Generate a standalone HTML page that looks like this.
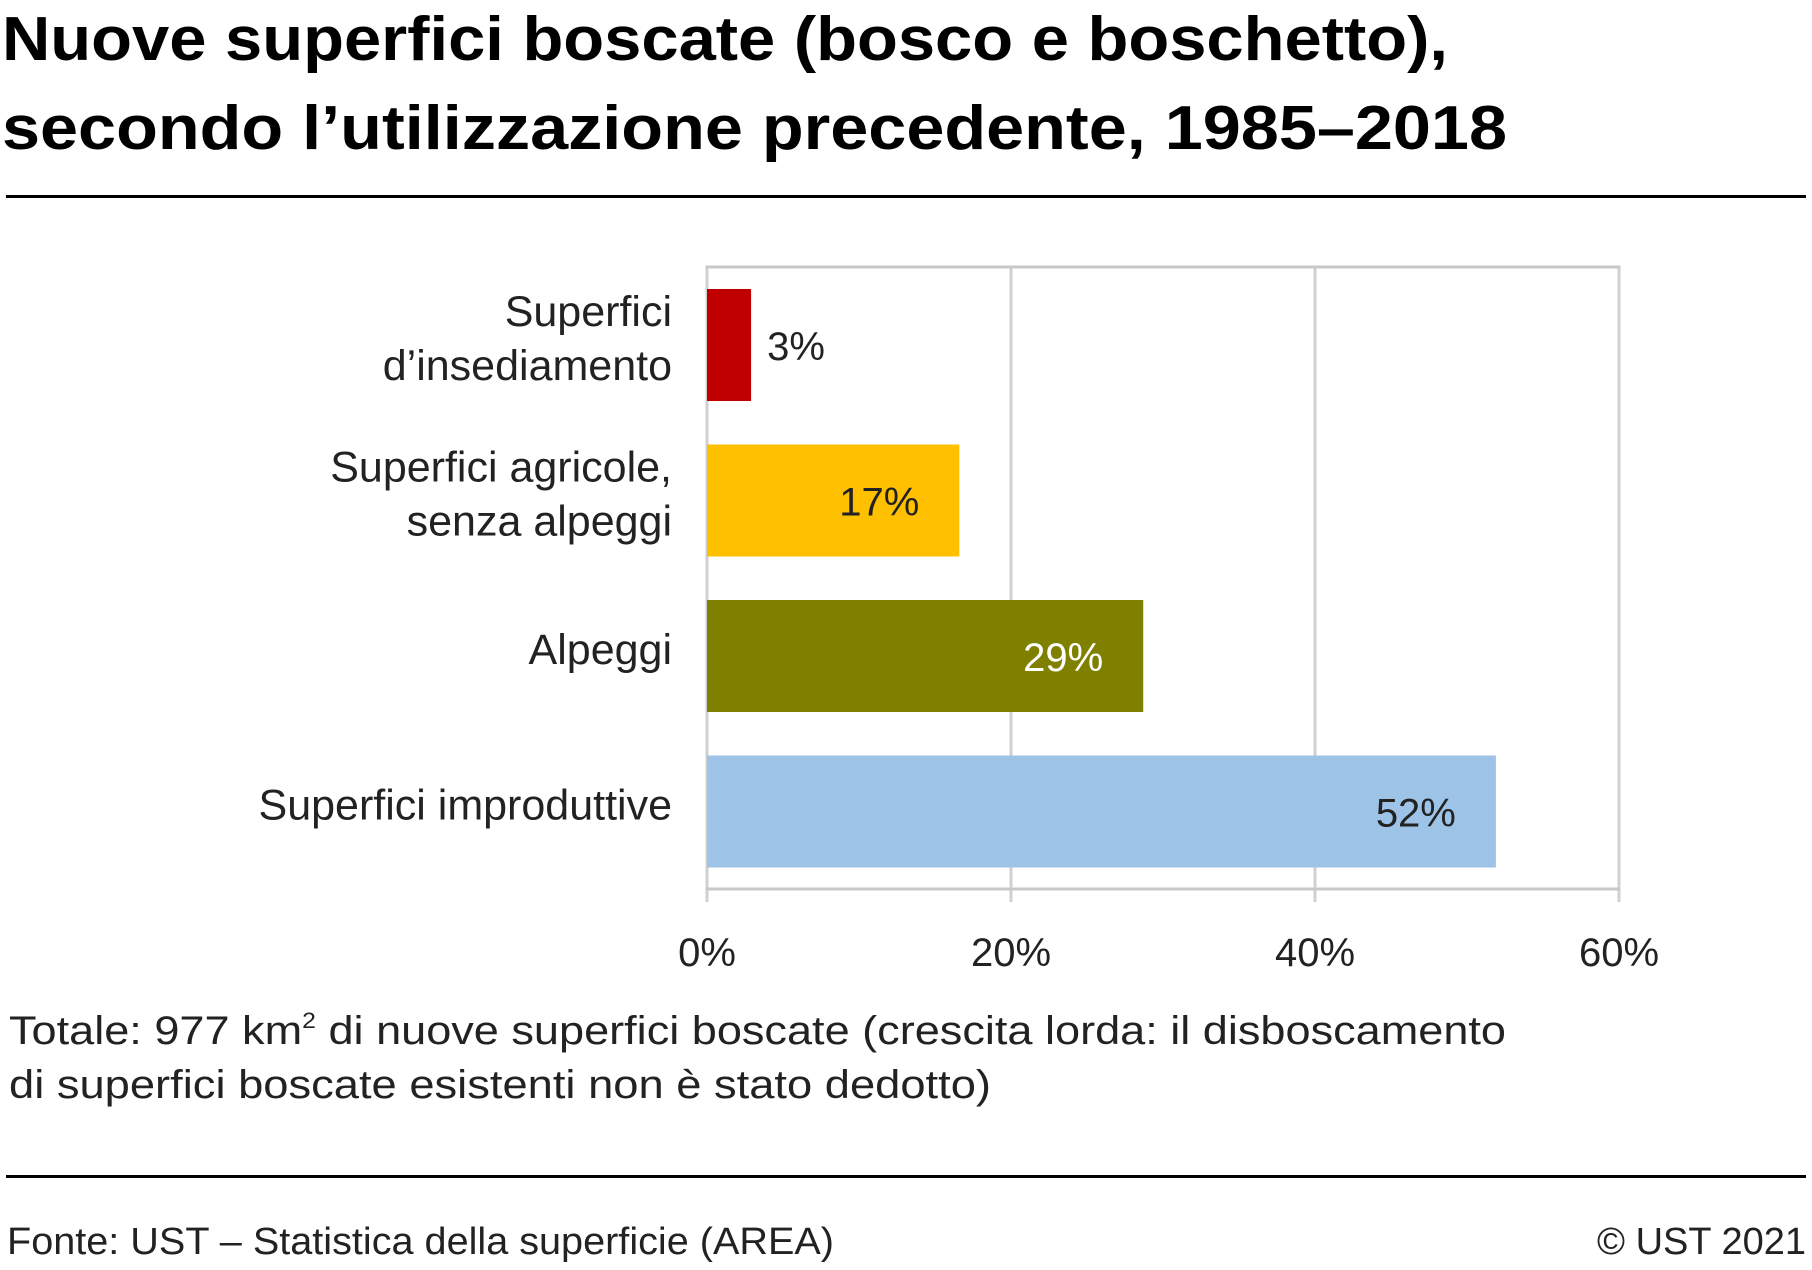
<!DOCTYPE html>
<html><head><meta charset="utf-8"><style>
html,body{margin:0;padding:0;background:#fff;}
svg{display:block;font-family:"Liberation Sans",sans-serif;}
</style></head><body>
<svg id="chart" width="1812" height="1270" viewBox="0 0 1812 1270">
<g font-weight="bold" font-size="62" fill="#000">
<text x="2" y="60" textLength="1446" lengthAdjust="spacingAndGlyphs">Nuove superfici boscate (bosco e boschetto),</text>
<text x="2" y="149" textLength="1505" lengthAdjust="spacingAndGlyphs">secondo l’utilizzazione precedente, 1985–2018</text>
</g>
<rect x="6" y="195" width="1800" height="3" fill="#000"/>
<g id="plot"></g>
<g font-size="40" fill="#222">
<text x="9" y="1044" textLength="1497" lengthAdjust="spacingAndGlyphs">Totale: 977 km<tspan font-size="22" dy="-16">2</tspan><tspan dy="16"> di nuove superfici boscate (crescita lorda: il disboscamento</tspan></text>
<text x="9" y="1098" textLength="982" lengthAdjust="spacingAndGlyphs">di superfici boscate esistenti non è stato dedotto)</text>
</g>
<rect x="6" y="1175" width="1800" height="3" fill="#000"/>
<text x="7" y="1254" font-size="38" fill="#222" textLength="827" lengthAdjust="spacingAndGlyphs">Fonte: UST – Statistica della superficie (AREA)</text>
<text x="1806" y="1254" font-size="38" fill="#222" text-anchor="end">© UST 2021</text>
</svg>
<script>
const categories = [["Superfici","d’insediamento"],["Superfici agricole,","senza alpeggi"],["Alpeggi"],["Superfici improduttive"]];
const values = [2.9, 16.6, 28.7, 51.9];
const valueLabels = ["3%","17%","29%","52%"];
const colors = ["#c00000","#ffc000","#808000","#9dc3e6"];
const labelColors = ["#222","#222","#fff","#222"];
const ticks = [0,20,40,60];
const tickLabels = ["0%","20%","40%","60%"];

const NS="http://www.w3.org/2000/svg";
const g=document.getElementById('plot');
const X0=707,X1=1619,Y0=267,Y1=889,maxV=60;
const xs=v=>X0+(v/maxV)*(X1-X0);
const band=(Y1-Y0)/categories.length;
const yb=i=>Y0+i*band;
function mk(tag,attrs,txt){const e=document.createElementNS(NS,tag);for(const k in attrs)e.setAttribute(k,attrs[k]);if(txt!=null)e.textContent=txt;g.appendChild(e);return e;}
ticks.forEach((t,i)=>{
  const l=mk('line',{x1:xs(t),x2:xs(t),y1:Y0,y2:Y1+13,stroke:'#d0d0d0','stroke-width':3});
  
  
  const tx=mk('text',{x:xs(t),y:966,'text-anchor':'middle','font-size':40,fill:'#222'},tickLabels[i]);
  
  
});
const plotTop=mk('line',{x1:X0-1.5,x2:X1+1.5,y1:Y0,y2:Y0,stroke:'#c8c8c8','stroke-width':3});


const ax=mk('line',{x1:X0-1.5,x2:X1+1.5,y1:Y1,y2:Y1,stroke:'#c8c8c8','stroke-width':3});


values.forEach((v,i)=>{
  const y=yb(i)+22,h=112;
  const r=mk('rect',{x:X0,y:y,width:xs(v)-X0,height:h,fill:colors[i]});
  
  
  const inside=(xs(v)-X0)>120;
  const lt=mk('text',{x:inside?xs(v)-40:xs(v)+16,y:y+h/2+15,'text-anchor':inside?'end':'start','font-size':40,fill:labelColors[i]},valueLabels[i]);
  
  
  const lines=categories[i];
  const cy=yb(i)+band/2;
  lines.forEach((s,j)=>{
    const ty=cy+8+(j-(lines.length-1)/2)*54;
    const c=mk('text',{x:672,y:ty,'text-anchor':'end','font-size':43,fill:'#222'},s);
    
    
  });
});
</script>
</body></html>
